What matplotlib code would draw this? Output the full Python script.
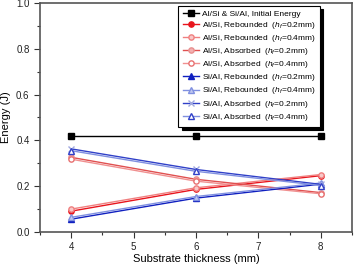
import matplotlib
matplotlib.use('Agg')
import matplotlib.pyplot as plt
from matplotlib.ticker import MultipleLocator

plt.rcParams['font.family'] = ['Liberation Sans', 'DejaVu Sans']
plt.rcParams['mathtext.fontset'] = 'custom'
plt.rcParams['mathtext.it'] = 'Liberation Sans:italic'
plt.rcParams['mathtext.rm'] = 'Liberation Sans'

thickness = [4, 6, 8]

initial_energy = [0.42, 0.42, 0.42]
alsi_reb_02 = [0.091, 0.186, 0.246]
alsi_reb_04 = [0.100, 0.193, 0.251]
alsi_abs_02 = [0.326, 0.230, 0.172]
alsi_abs_04 = [0.318, 0.222, 0.167]
sial_reb_02 = [0.056, 0.148, 0.209]
sial_reb_04 = [0.064, 0.155, 0.214]
sial_abs_02 = [0.363, 0.273, 0.208]
sial_abs_04 = [0.355, 0.265, 0.203]

labels = [
    'Al/Si & Si/Al, Initial Energy',
    'Al/Si, Rebounded  ($h_f$=0.2mm)',
    'Al/Si, Rebounded  ($h_f$=0.4mm)',
    'Al/Si, Absorbed  ($h_f$=0.2mm)',
    'Al/Si, Absorbed  ($h_f$=0.4mm)',
    'Si/Al, Rebounded  ($h_f$=0.2mm)',
    'Si/Al, Rebounded  ($h_f$=0.4mm)',
    'Si/Al, Absorbed  ($h_f$=0.2mm)',
    'Si/Al, Absorbed  ($h_f$=0.4mm)',
]

fig = plt.figure(figsize=(3.56, 2.64), dpi=100)
ax = fig.add_axes([40 / 356, 32 / 264, 312 / 356, 229 / 264])

ms = 3.8
ax.plot(thickness, initial_energy, color='black', lw=1, marker='s', ms=ms, label=labels[0])
# Al/Si (red)
ax.plot(thickness, alsi_reb_02, color='#e8141c', lw=1, marker='o', ms=ms, label=labels[1])
ax.plot(thickness, alsi_reb_04, color='#f08080', lw=1, marker='o', ms=ms, mfc='#f8c8c8', mec='#f08080', label=labels[2])
ax.plot(thickness, alsi_abs_02, color='#e05050', lw=1, marker='o', ms=ms, mfc='#f4b0b0', mec='#e89090', label=labels[3])
ax.plot(thickness, alsi_abs_04, color='#f09090', lw=1, marker='o', ms=ms, mfc='white', mec='#e87070', label=labels[4])
# Si/Al (blue)
ax.plot(thickness, sial_reb_02, color='#1020c0', lw=1, marker='^', ms=ms, label=labels[5])
ax.plot(thickness, sial_reb_04, color='#8090e0', lw=1, marker='^', ms=ms, mfc='#c0c8f0', mec='#8090e0', label=labels[6])
ax.plot(thickness, sial_abs_02, color='#3040c8', lw=1, marker='x', ms=ms, mec='#a0a8e0', label=labels[7])
ax.plot(thickness, sial_abs_04, color='#8090e0', lw=1, marker='^', ms=ms, mfc='white', mec='#3040c8', label=labels[8])

ax.set_xlim(3.5, 8.5)
ax.set_ylim(0.0, 1.0)
ax.xaxis.set_major_locator(MultipleLocator(1))
ax.xaxis.set_minor_locator(MultipleLocator(0.5))
ax.yaxis.set_major_locator(MultipleLocator(0.2))
ax.yaxis.set_minor_locator(MultipleLocator(0.1))
ax.yaxis.set_major_formatter(plt.FormatStrFormatter('%.1f'))
ax.tick_params(which='major', direction='out', length=4, width=0.8, labelsize=7, colors='#333333', labelcolor='#222222')
ax.tick_params(which='minor', direction='out', length=2.5, width=0.8, colors='#333333')
for s in ax.spines.values():
    s.set_color('#555555')
    s.set_linewidth(1.2)

ax.set_xlabel('Substrate thickness (mm)', fontsize=8, labelpad=1)
ax.set_ylabel('Energy (J)', fontsize=8, labelpad=4)

leg = ax.legend(loc='upper right', bbox_to_anchor=(0.897, 0.987), fontsize=6, frameon=True,
                fancybox=False, shadow={'color': 'black', 'alpha': 1, 'ox': 2.2, 'oy': -2.2},
                edgecolor='black', handlelength=2.0, labelspacing=0.25, borderpad=0.5,
                handletextpad=0.3, borderaxespad=0)
leg.get_frame().set_linewidth(0.8)

fig.savefig('out.png', dpi=100)
